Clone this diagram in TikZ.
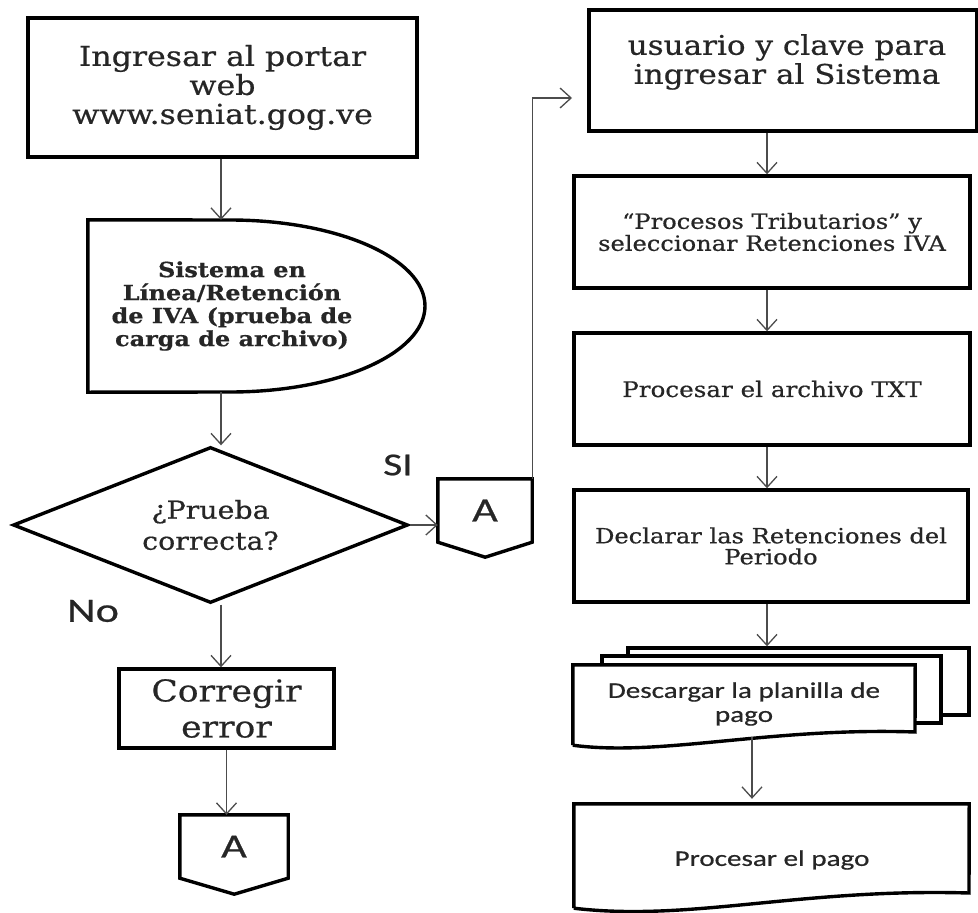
\documentclass[tikz,border=0pt]{standalone}
\usepackage{fontspec}
\setmainfont{DejaVu Serif}[FakeStretch=1.15,FakeBold=0.6]
\newfontfamily\calib{Carlito}[FakeStretch=1.3,FakeBold=0.6]
\usetikzlibrary{arrows.meta,shapes.geometric}

\tikzset{
  box/.style={draw=black, line width=3.4pt, rectangle, inner sep=0pt,
    align=center, text=black!85},
  flow/.style={draw=black!70, line width=1.3pt,
    -{Straight Barb[length=11pt,width=20pt,line width=1.3pt]}},
  conn/.style={inner sep=0pt, text=black!85, font=\calib\fontsize{34}{34}\selectfont},
  edge/.style={draw=black, line width=3.4pt, line join=miter},
  lbl/.style={text=black!85, font=\calib\fontsize{32}{32}\selectfont},
}

\begin{document}
\begin{tikzpicture}[x=1pt,y=-1pt]
  \useasboundingbox (0,0) rectangle (978,913);
  \clip (0,0) rectangle (978,913);
  \coordinate (colL) at (221,0);
  \coordinate (colR) at (767,0);

  % left column
  \node[box, minimum width=389pt, minimum height=139pt,
    font=\fontsize{27.5}{29}\selectfont] (portal) at (222.5,87.5)
    {Ingresar al portar\\web\\www.seniat.gog.ve};

  \node[inner sep=0pt, minimum width=337pt, minimum height=172pt] (sistema) at (256.5,306) {};
  \draw[edge] (sistema.north west) -- (230,220)
    arc[start angle=-90, end angle=90, x radius=195, y radius=86]
    -- (sistema.south west) -- cycle;
  \node[align=center, text=black!85, font=\bfseries\fontsize{20.8}{23}\selectfont]
    (sistematxt) at (232,306) {Sistema en\\Línea/Retención\\de IVA (prueba de\\carga de archivo)};

  \node[diamond, aspect=2.5, draw=black, line width=3.4pt, inner sep=0pt, align=center,
    minimum width=395pt, minimum height=156pt, text=black!85,
    font=\fontsize{24.7}{31}\selectfont] (prueba) at (210.5,525) {¿Prueba\\correcta?};

  \node[box, minimum width=215pt, minimum height=79pt,
    font=\fontsize{30}{36}\selectfont] (corregir) at (226.5,708.5) {Corregir\\error};

  \node[conn, minimum width=108pt, minimum height=63pt] (conA) at (234,846.5) {A};
  \draw[edge] (conA.south west) -- (conA.north west) -- (conA.north east)
    -- (conA.south east) -- ++(-54,16) -- cycle;
  \node[conn, minimum width=94pt, minimum height=63pt] (conB) at (485,510.5) {A};
  \draw[edge] (conB.south west) -- (conB.north west) -- (conB.north east)
    -- (conB.south east) -- ++(-47,15) -- cycle;

  \node[lbl] (si) at (398,465) {SI};
  \node[lbl, font=\calib\fontsize{34}{34}\selectfont] (no) at (93,611) {No};

  % right column
  \node[box, minimum width=388pt, minimum height=121pt] (usuario) at (783,70.5) {};
  \node[align=center, text=black!85, font=\fontsize{27}{29}\selectfont]
    (usuariotxt) at (787,62) {usuario y clave para\\ingresar al Sistema};
  \coordinate (entry) at (572,98);

  \node[box, minimum width=396pt, minimum height=112pt,
    font=\fontsize{21}{22}\selectfont] (procesos) at (772,232)
    {“Procesos Tributarios” y\\seleccionar Retenciones IVA};
  \node[box, minimum width=396pt, minimum height=112pt,
    font=\fontsize{21.4}{22}\selectfont] (archivo) at (772,389)
    {Procesar el archivo TXT};
  \node[box, minimum width=394pt, minimum height=112pt,
    font=\fontsize{21}{21}\selectfont] (declarar) at (771,546)
    {Declarar las Retenciones del\\Periodo};

  \node[box, fill=white, minimum width=341pt, minimum height=67pt] (docback) at (798.5,681.5) {};
  \node[box, fill=white, minimum width=339pt, minimum height=67pt] (docmid) at (771.5,689.5) {};
  \node[inner sep=0pt, minimum width=342pt, minimum height=80pt] (planilla) at (744,705) {};
  \draw[edge, fill=white] (planilla.south west) -- (planilla.north west)
    -- (planilla.north east) -- (915,732)
    .. controls (770,727) and (660,757) .. (planilla.south west);
  \node[align=center, text=black!85, font=\calib\fontsize{22.4}{24}\selectfont]
    (planillatxt) at (744,704) {Descargar la planilla de\\pago};
  \coordinate (planillaout) at (752,737);

  \node[inner sep=0pt, minimum width=395pt, minimum height=104pt] (pago) at (771.5,856) {};
  \draw[edge] (pago.south west) -- (pago.north west)
    -- (pago.north east) -- (969,893)
    .. controls (800,888) and (690,922) .. (pago.south west);
  \node[text=black!85, font=\calib\fontsize{22.4}{24}\selectfont]
    (pagotxt) at (772,860) {Procesar el pago};

  % connectors
  \draw[flow] (colL |- portal.south) -- (colL |- sistema.north);
  \draw[flow] (colL |- sistema.south) -- (colL |- prueba.north);
  \draw[flow] (colL |- prueba.south) -- (colL |- corregir.north);
  \draw[flow] (corregir.south) -- (corregir.south |- conA.north);
  \draw[flow] (prueba.east) -- (prueba.east -| conB.west);
  \draw[flow] (conB.north east) |- (entry);
  \draw[flow] (colR |- usuario.south) -- (colR |- procesos.north);
  \draw[flow] (colR |- procesos.south) -- (colR |- archivo.north);
  \draw[flow] (colR |- archivo.south) -- (colR |- declarar.north);
  \draw[flow] (colR |- declarar.south) -- (colR |- docback.north);
  \draw[flow, shorten >=5pt] (planillaout) -- (planillaout |- pago.north);
\end{tikzpicture}
\end{document}
